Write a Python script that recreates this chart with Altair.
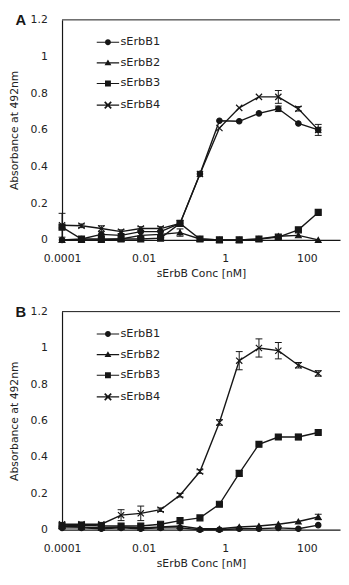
import altair as alt
import pandas as pd

# ---- data ----
conc = [0.0001, 0.0003, 0.00092, 0.0028, 0.0085, 0.026, 0.078,
        0.24, 0.72, 2.2, 6.7, 20, 62, 190]
series_names = ["sErbB1", "sErbB2", "sErbB3", "sErbB4"]

# Panel A
a_b1 = [0.0, 0.005, 0.03, 0.025, 0.045, 0.045, 0.09, 0.36, 0.65, 0.647, 0.69, 0.715, 0.635, 0.60]
a_b2 = [0.0, 0.0, 0.0, 0.005, 0.025, 0.03, 0.04, 0.005, 0.0, 0.0, 0.005, 0.02, 0.025, 0.0]
a_b3 = [0.07, 0.005, 0.005, 0.005, 0.005, 0.01, 0.09, 0.005, 0.0, 0.0, 0.005, 0.015, 0.055, 0.15]
a_b4 = [0.08, 0.077, 0.062, 0.045, 0.062, 0.062, 0.09, 0.36, 0.61, 0.72, 0.78, 0.78, 0.715, 0.60]
a_e1 = [0, 0, 0, 0, 0, 0, 0, 0, 0, 0, 0, 0.015, 0, 0]
a_e2 = [0, 0, 0, 0, 0, 0, 0.02, 0, 0, 0, 0, 0, 0, 0]
a_e3 = [0, 0, 0, 0, 0, 0, 0, 0, 0, 0, 0, 0, 0, 0]
a_e4 = [0.065, 0.01, 0.015, 0.01, 0.01, 0.01, 0.015, 0, 0, 0, 0, 0.035, 0.012, 0.03]

# Panel B
b_b1 = [0.01, 0.01, 0.005, 0.01, 0.005, 0.01, 0.01, 0.0, 0.0, 0.005, 0.005, 0.01, 0.005, 0.025]
b_b2 = [0.02, 0.015, 0.01, 0.015, 0.01, 0.015, 0.02, 0.005, 0.005, 0.015, 0.02, 0.03, 0.045, 0.07]
b_b3 = [0.02, 0.025, 0.02, 0.02, 0.02, 0.03, 0.05, 0.065, 0.14, 0.31, 0.47, 0.51, 0.51, 0.535]
b_b4 = [0.03, 0.03, 0.03, 0.08, 0.09, 0.11, 0.19, 0.32, 0.59, 0.93, 1.0, 0.985, 0.905, 0.86]
b_e1 = [0, 0, 0, 0, 0, 0, 0, 0, 0, 0, 0, 0, 0, 0]
b_e2 = [0, 0, 0, 0, 0, 0, 0, 0, 0, 0, 0, 0, 0, 0.015]
b_e3 = [0, 0, 0, 0, 0, 0, 0, 0, 0, 0.015, 0, 0, 0.015, 0]
b_e4 = [0.01, 0.01, 0.01, 0.03, 0.04, 0.01, 0.01, 0.01, 0.015, 0.05, 0.05, 0.045, 0.015, 0.015]

x_ticks = [0.0001, 0.01, 1, 100]

# ---- styles ----
INK = "#161616"
FONT = "DejaVu Sans"
W = 283
H_A, H_B = 224, 222

point_shapes = [
    "circle",
    "triangle-up",
    "square",
    "M-1,-1L1,1M-1,1L1,-1",
]
point_sizes = [30, 40, 30, 40]
LINE = "M-3.8,-0.2H3.8V0.2H-3.8Z"
legend_shapes = [
    LINE + "M-1,0A1,1 0 1,1 1,0A1,1 0 1,1 -1,0Z",
    LINE + "M0,-1.15L1.15,0.85L-1.15,0.85Z",
    LINE + "M-1,-1H1V1H-1Z",
    LINE + "M-1.3,-0.9L-0.9,-1.3L1.3,0.9L0.9,1.3Z"
           "M0.9,-1.3L1.3,-0.9L-0.9,1.3L-1.3,0.9Z",
]


def make_df(vals, errs):
    rows = []
    for name, v, e in zip(series_names, vals, errs):
        for c, y, err in zip(conc, v, e):
            rows.append({"conc": c, "value": y, "err": err, "series": name,
                         "lo": y - err, "hi": y + err})
    return pd.DataFrame(rows)


def panel(letter, vals, errs, H):
    df = make_df(vals, errs)
    dfe = df[df["err"] > 0]
    xs = alt.Scale(type="log", domain=[0.0001, 650], nice=False)
    ys = alt.Scale(domain=[0, 1.2], nice=False)
    xax = alt.Axis(values=x_ticks, format="~g", title="sErbB Conc [nM]",
                   labelPadding=13, titlePadding=4, labelFlush=False, labelOverlap=False)
    yax = alt.Axis(tickCount=6, format="~g", title="Absorbance at 492nm",
                   labelPadding=15, titlePadding=11, labelFlush=False, labelOverlap=False,
                   labelBound=False)
    X = lambda f: alt.X(f, scale=xs, axis=xax)
    Y = lambda f: alt.Y(f, scale=ys, axis=yax)

    lines = alt.Chart(df).mark_line(color=INK, strokeWidth=1.4).encode(
        x=X("conc:Q"), y=Y("value:Q"), detail="series:N"
    )
    ebar = alt.Chart(dfe).mark_rule(color=INK, strokeWidth=1).encode(
        x=X("conc:Q"), y=Y("lo:Q"), y2="hi:Q"
    )
    caps = alt.Chart(dfe).transform_fold(["lo", "hi"], as_=["k", "cap"]).mark_tick(
        orient="horizontal", size=7, thickness=1, color=INK, opacity=1
    ).encode(x=X("conc:Q"), y=Y("cap:Q"))
    pts = alt.Chart(df).mark_point(filled=True, fill=INK, stroke=INK,
                                   strokeWidth=1.2, opacity=1).encode(
        x=X("conc:Q"), y=Y("value:Q"),
        shape=alt.Shape("series:N", scale=alt.Scale(domain=series_names, range=point_shapes), legend=None),
        size=alt.Size("series:O", scale=alt.Scale(domain=series_names, range=point_sizes), legend=None),
    )
    leg = alt.Chart(df).transform_filter("datum.value > 50").mark_point(
        filled=True, fill=INK, opacity=1
    ).encode(
        x=X("conc:Q"), y=Y("value:Q"),
        shape=alt.Shape(
            "series:N",
            scale=alt.Scale(domain=series_names, range=legend_shapes),
            legend=alt.Legend(
                title=None, orient="none", legendX=41, legendY=17, padding=0,
                symbolSize=36, labelOffset=7, rowPadding=8,
                labelFont=FONT, labelFontSize=11.5, labelColor="#222",
                symbolFillColor=INK, symbolOpacity=1,
            ),
        ),
    )
    top = alt.Chart(pd.DataFrame({"t": [1]})).mark_rule(color=INK, strokeWidth=1).encode(
        y=alt.YDatum(1.2, scale=ys, axis=yax), x=alt.value(0), x2=alt.value(W)
    )
    lab = alt.Chart(pd.DataFrame({"t": [letter]})).mark_text(
        font="Liberation Sans", fontSize=15, fontWeight="bold", color=INK, align="center", baseline="middle"
    ).encode(text="t:N", x=alt.value(-42), y=alt.YDatum(1.2, scale=ys, axis=yax))

    return alt.layer(lines, ebar, caps, pts, leg, top, lab).resolve_scale(
        shape="independent", size="independent"
    ).properties(width=W, height=H)


chart = alt.vconcat(
    panel("A", [a_b1, a_b2, a_b3, a_b4], [a_e1, a_e2, a_e3, a_e4], H_A),
    panel("B", [b_b1, b_b2, b_b3, b_b4], [b_e1, b_e2, b_e3, b_e4], H_B),
    spacing=27,
).resolve_scale(x="independent", y="independent", shape="independent", size="independent"
).resolve_legend(shape="independent").properties(
    padding={"left": 0, "top": 0, "right": 0, "bottom": 0}
).configure_view(stroke=None).configure_axis(
    grid=False, ticks=False, domainColor=INK, domainWidth=1.2, labelOverlap=False,
    labelFont=FONT, labelFontSize=11, labelColor="#222",
    titleFont=FONT, titleFontSize=11, titleColor="#222", titleFontWeight="normal",
)

chart.save("out.html", embed_options={"renderer": "svg", "actions": False})
